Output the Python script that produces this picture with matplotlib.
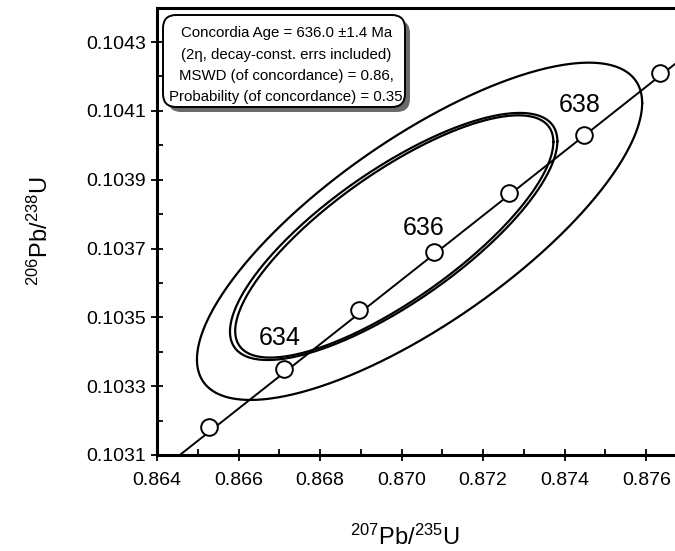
import numpy as np
import matplotlib
matplotlib.use("Agg")
import matplotlib.pyplot as plt
from matplotlib.patches import FancyBboxPatch

plt.rcParams['font.family'] = ['Liberation Sans', 'DejaVu Sans']
plt.rcParams['mathtext.fontset'] = 'custom'
plt.rcParams['mathtext.rm'] = 'Liberation Sans'
plt.rcParams['mathtext.it'] = 'Liberation Sans'

# concordia points (Ma) and their ratios
ages = [633, 634, 635, 636, 637, 638, 639]
pb207_u235 = [0.86528, 0.86712, 0.86896, 0.87080, 0.87264, 0.87448, 0.87633]
pb206_u238 = [0.10318, 0.10335, 0.10352, 0.10369, 0.10386, 0.10403, 0.10421]

# concordia curve ends where it leaves the frame
line_x = [0.86456, 0.87680]
line_y = [0.10310, 0.104245]

# labelled ages and label positions
label_ages = ['634', '636', '638']
label_x = [0.86702, 0.87053, 0.87438]
label_y = [0.10344, 0.10376, 0.104117]

# error ellipses: centre x, centre y, half width x, half height y, correlation
ell_cx = [0.87044, 0.869805, 0.86982]
ell_cy = [0.10375, 0.103735, 0.103735]
ell_sx = [0.00546, 0.004015, 0.003902]
ell_sy = [0.00049, 0.000359, 0.000352]
ell_rho = [0.76, 0.77, 0.78]

box_lines = ['Concordia Age = 636.0 \u00b11.4 Ma',
             '(2\u03b7, decay-const. errs included)',
             'MSWD (of concordance) = 0.86,',
             'Probability (of concordance) = 0.35']

xticks = [0.864, 0.866, 0.868, 0.870, 0.872, 0.874, 0.876]
yticks = [0.1031, 0.1033, 0.1035, 0.1037, 0.1039, 0.1041, 0.1043]

fig = plt.figure(figsize=(6.75, 5.51), dpi=100)
ax = fig.add_axes([157/675, 96/551, 530/675, 447.4/551])

# ellipses
t = np.linspace(0, 2*np.pi, 400)
for cx, cy, sx, sy, r in zip(ell_cx, ell_cy, ell_sx, ell_sy, ell_rho):
    ex = cx + sx*np.cos(t)
    ey = cy + sy*(r*np.cos(t) + np.sqrt(1 - r**2)*np.sin(t))
    ax.plot(ex, ey, color='black', lw=1.6, zorder=2)

# concordia line and age markers
ax.plot(line_x, line_y, color='black', lw=1.4, zorder=3)
ax.plot(pb207_u235, pb206_u238, 'o', ms=12, mfc='white', mec='black',
        mew=1.4, zorder=4)
for s, x, y in zip(label_ages, label_x, label_y):
    ax.text(x, y, s, fontsize=18, ha='center', va='center', zorder=5)

ax.set_xlim(0.864, 0.877)
ax.set_ylim(0.1031, 0.1044)
ax.set_xticks(xticks)
ax.set_xticklabels(['%.3f' % v for v in xticks])
ax.set_yticks(yticks)
ax.set_yticklabels(['%.4f' % v for v in yticks])
ax.set_xticks([v + 0.001 for v in xticks], minor=True)
ax.set_yticks([v + 0.0001 for v in yticks[:-1]], minor=True)
ax.tick_params(which='major', direction='inout', length=8, width=1.3,
               labelsize=14, pad=4, top=False, right=False)
ax.tick_params(axis='x', which='major', pad=8)
ax.tick_params(which='minor', direction='in', length=4, width=1.3,
               top=False, right=False)
for sp in ['left', 'bottom', 'top']:
    ax.spines[sp].set_linewidth(2.2)
ax.spines['right'].set_visible(False)

ax.set_xlabel(r'$^{207}$Pb/$^{235}$U', fontsize=17)
ax.set_ylabel(r'$^{206}$Pb/$^{238}$U', fontsize=17)
ax.xaxis.set_label_coords((405 - 157)/530, -0.155)
ax.yaxis.set_label_coords(-0.196, 0.5)

# result box with shadow
bx0, bx1 = 6/530, 248/530
by0, by1 = (455 - 107)/447.4, (455 - 15)/447.4
asp = 530/447.4
shadow = FancyBboxPatch((bx0 + 5/530, by0 - 5/447.4), bx1 - bx0, by1 - by0,
                        boxstyle='round,pad=0,rounding_size=0.025',
                        mutation_aspect=asp, transform=ax.transAxes,
                        fc='#6a6a6a', ec='none', zorder=6)
box = FancyBboxPatch((bx0, by0), bx1 - bx0, by1 - by0,
                     boxstyle='round,pad=0,rounding_size=0.025',
                     mutation_aspect=asp, transform=ax.transAxes,
                     fc='white', ec='black', lw=1.4, zorder=7)
ax.add_patch(shadow)
ax.add_patch(box)
line_px = [33, 55, 76, 97]
for s, py in zip(box_lines, line_px):
    ax.text((bx0 + bx1)/2 + 0.004, (455 - py)/447.4, s, transform=ax.transAxes,
            fontsize=10.8, ha='center', va='center', zorder=8)

fig.savefig('out.png', dpi=100)
